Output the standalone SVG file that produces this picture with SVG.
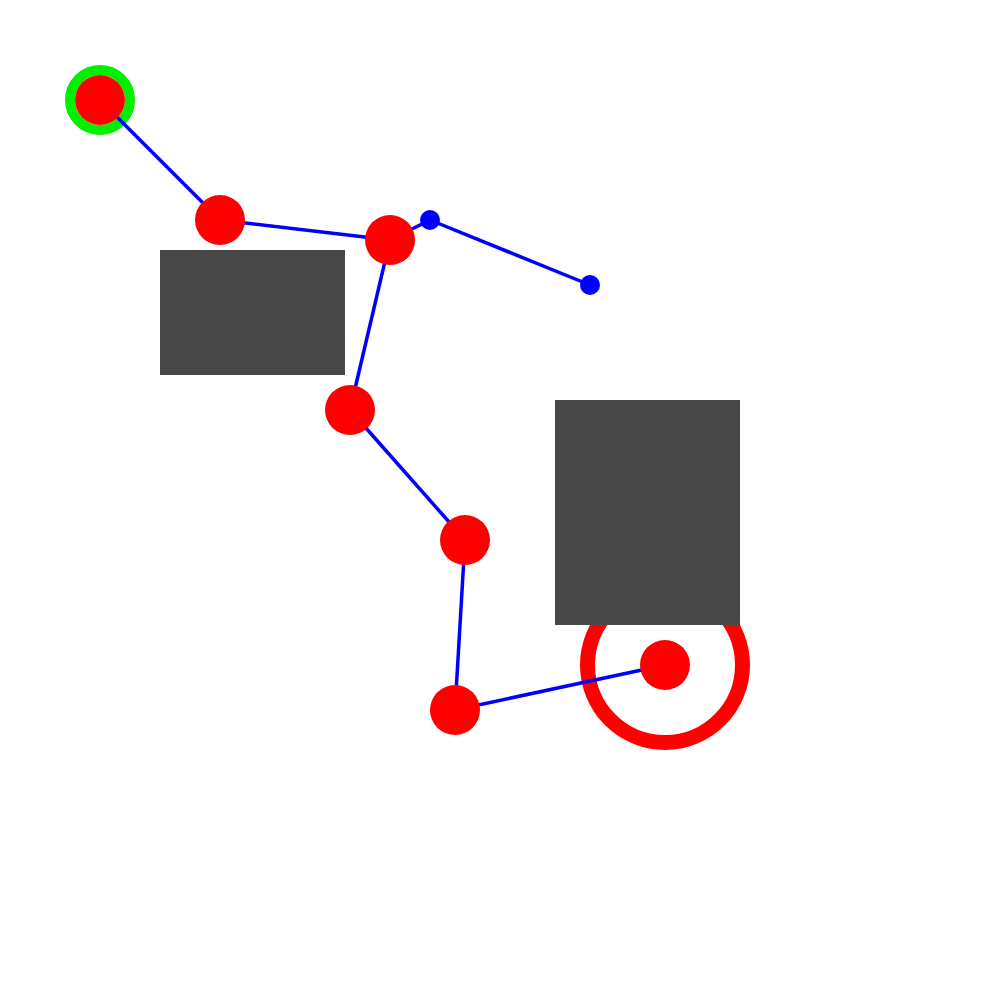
<svg xmlns="http://www.w3.org/2000/svg" width="1000" height="1000" viewBox="0 0 1000 1000">
<style>
.edge{stroke:#0000ff;stroke-width:3.5;fill:none}
.node{fill:#ff0000}
.dot{fill:#0000ff}
.obst{fill:#484848}
</style>
<rect width="1000" height="1000" fill="#ffffff"/>
<g id="goal-ring"><circle cx="665" cy="665" r="77.5" fill="none" stroke="#ff0000" stroke-width="15"/></g>
<g id="start-ring"><circle cx="100" cy="100" r="30" fill="none" stroke="#00ee00" stroke-width="10"/></g>
<g id="connectors">
<line class="edge" x1="100" y1="100" x2="220" y2="220"/>
<line class="edge" x1="220" y1="220" x2="390" y2="240"/>
<line class="edge" x1="390" y1="240" x2="430" y2="220"/>
<line class="edge" x1="430" y1="220" x2="590" y2="285"/>
<line class="edge" x1="390" y1="240" x2="350" y2="410"/>
<line class="edge" x1="350" y1="410" x2="465" y2="540"/>
<line class="edge" x1="465" y1="540" x2="455" y2="710"/>
<line class="edge" x1="455" y1="710" x2="665" y2="665"/>
</g>
<g id="obstacle1"><rect class="obst" x="160" y="250" width="185" height="125"/></g>
<g id="obstacle2"><rect class="obst" x="555" y="400" width="185" height="225"/></g>
<g id="n1"><circle class="node" cx="100" cy="100" r="25"/></g>
<g id="n2"><circle class="node" cx="220" cy="220" r="25"/></g>
<g id="n3"><circle class="node" cx="390" cy="240" r="25"/></g>
<g id="n4"><circle class="node" cx="350" cy="410" r="25"/></g>
<g id="n5"><circle class="node" cx="465" cy="540" r="25"/></g>
<g id="n6"><circle class="node" cx="455" cy="710" r="25"/></g>
<g id="n7"><circle class="node" cx="665" cy="665" r="25"/></g>
<g id="d1"><circle class="dot" cx="430" cy="220" r="10"/></g>
<g id="d2"><circle class="dot" cx="590" cy="285" r="10"/></g>
</svg>
